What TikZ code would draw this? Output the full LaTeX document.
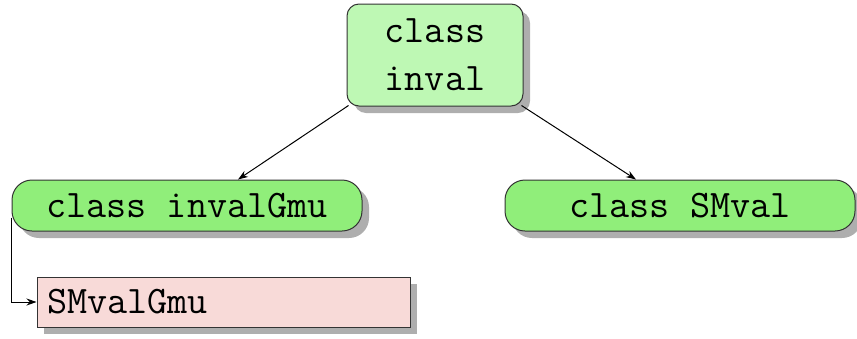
\documentclass[tikz,border=0pt]{standalone}
\usetikzlibrary{shadows,arrows.meta}
\definecolor{topgreen}{RGB}{190,248,180}
\definecolor{midgreen}{RGB}{144,238,122}
\definecolor{pinkbox}{RGB}{248,218,216}
\tikzset{
  base/.style={draw=black!80, line width=1pt, font=\ttfamily\fontsize{39}{48}\selectfont,
    drop shadow={shadow xshift=7pt, shadow yshift=-7pt, fill=black!45, opacity=0.7}},
  topbox/.style={base, fill=topgreen, rounded corners=12pt, minimum width=176pt, minimum height=102pt, align=center, inner sep=0pt},
  classbox/.style={base, fill=midgreen, rounded corners=20pt, minimum width=350pt, minimum height=51pt, inner sep=0pt},
  objbox/.style={base, fill=pinkbox, minimum width=373pt, minimum height=50pt, inner sep=0pt, text width=353pt, align=left},
  conn/.style={line width=1pt, -{Stealth[length=10pt,width=7pt]}}
}
\begin{document}
\begin{tikzpicture}[x=1pt,y=1pt]
\useasboundingbox (0,0) rectangle (857,-338);
\node[topbox] (top) at (435,-55) {class\\inval};
\node[classbox] (left) at (187,-205.5) {class invalGmu};
\node[classbox] (right) at (680,-205.5) {class SMval};
\node[objbox] (obj) at (223.5,-302) {SMvalGmu};
\draw[conn] ([xshift=2pt,yshift=1pt]top.south west) -- ([xshift=51pt]left.north);
\draw[conn] ([xshift=-2pt,yshift=1pt]top.south east) -- ([xshift=-44pt]right.north);
\coordinate (lstart) at ([yshift=-12pt]left.west);
\draw[conn] (lstart) |- (obj.west);
\end{tikzpicture}
\end{document}
